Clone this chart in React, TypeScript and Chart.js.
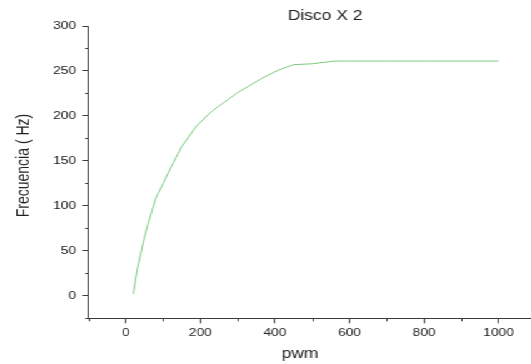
import React, { useEffect, useRef } from "react";
import { Chart, registerables } from "chart.js";

Chart.register(...registerables);

const pwmValues = [20, 30, 40, 50, 60, 80, 100, 120, 150, 190, 230, 300, 370, 410, 450, 500, 560, 600, 700, 800, 900, 1000];
const freqValues = [2, 28, 47, 65, 81, 108, 125, 142, 166, 189, 205, 226, 243, 251, 257, 258, 261, 261, 261, 261, 261, 261];

const xMajorTicks = [0, 200, 400, 600, 800, 1000];
const xMinorTicks = [-100, 100, 300, 500, 700, 900];
const yMajorTicks = [0, 50, 100, 150, 200, 250, 300];
const yMinorTicks = [-25, 25, 75, 125, 175, 225, 275];

const titleText = "Disco X 2";
const xTitle = "pwm";
const yTitle = "Frecuencia ( Hz)";

const STRETCH = 1.25;
const FONT = "'Liberation Sans', Arial, sans-serif";
const AXIS = "#3a3a3a";
const TEXT = "#222222";

export default function App() {
  const ref = useRef<HTMLCanvasElement | null>(null);

  useEffect(() => {
    if (!ref.current) return;
    const extras = {
      id: "extras",
      afterDraw(chart: any) {
        const ctx = chart.ctx;
        const xs = chart.scales.x;
        const ys = chart.scales.y;
        const area = chart.chartArea;
        ctx.save();
        ctx.strokeStyle = AXIS;
        ctx.lineWidth = 1;
        ctx.beginPath();
        xMinorTicks.forEach((v) => {
          const px = Math.round(xs.getPixelForValue(v)) + 0.5;
          ctx.moveTo(px, area.bottom);
          ctx.lineTo(px, area.bottom + 3);
        });
        yMinorTicks.forEach((v) => {
          const py = Math.round(ys.getPixelForValue(v)) + 0.5;
          ctx.moveTo(area.left, py);
          ctx.lineTo(area.left - 2.6, py);
        });
        ctx.stroke();

        ctx.fillStyle = TEXT;
        ctx.font = `14px ${FONT}`;
        ctx.textAlign = "center";
        ctx.textBaseline = "alphabetic";
        ctx.fillText(titleText, chart.width * 0.612, 20);
        ctx.fillText(xTitle, chart.width * 0.5645, 358);

        ctx.translate(22.5, 165.5);
        ctx.rotate(-Math.PI / 2);
        ctx.fillText(yTitle, 0, 0);
        ctx.restore();
      },
    };

    const chart = new Chart(ref.current, {
      type: "line",
      data: {
        datasets: [
          {
            data: pwmValues.map((x, i) => ({ x, y: freqValues[i] })),
            borderColor: "rgb(125,202,125)",
            borderWidth: 1,
            pointRadius: 0,
            tension: 0,
            fill: false,
          },
        ],
      },
      options: {
        animation: false,
        responsive: true,
        maintainAspectRatio: false,
        layout: { padding: { top: 26, right: 0, left: 0, bottom: 0 } },
        plugins: { legend: { display: false }, title: { display: false }, tooltip: { enabled: false } },
        scales: {
          x: {
            type: "linear",
            min: -100,
            max: 1086,
            afterBuildTicks: (scale: any) => {
              scale.ticks = xMajorTicks.map((v) => ({ value: v }));
            },
            afterFit: (scale: any) => {
              scale.height = 45.7;
            },
            grid: { drawOnChartArea: false, drawTicks: true, tickLength: 5, color: AXIS },
            border: { display: true, color: AXIS, width: 1 },
            ticks: {
              color: TEXT,
              font: { family: FONT, size: 11 },
              padding: 3,
              maxRotation: 0,
              autoSkip: false,
              callback: (v: any) => String(v),
            },
          },
          y: {
            type: "linear",
            min: -25,
            max: 300,
            afterBuildTicks: (scale: any) => {
              scale.ticks = yMajorTicks.map((v) => ({ value: v }));
            },
            afterFit: (scale: any) => {
              scale.width = 70.8;
            },
            grid: { drawOnChartArea: false, drawTicks: true, tickLength: 5, color: AXIS },
            border: { display: true, color: AXIS, width: 1 },
            ticks: {
              color: TEXT,
              font: { family: FONT, size: 11 },
              padding: 5,
              autoSkip: false,
              callback: (v: any) => String(v),
            },
          },
        },
      },
      plugins: [extras],
    });
    return () => chart.destroy();
  }, []);

  return (
    <div
      style={{
        position: "absolute",
        left: 0,
        top: 0,
        width: 425,
        height: 364,
        transform: `scaleX(${STRETCH})`,
        transformOrigin: "0 0",
        background: "#fff",
      }}
    >
      <canvas ref={ref} />
    </div>
  );
}
